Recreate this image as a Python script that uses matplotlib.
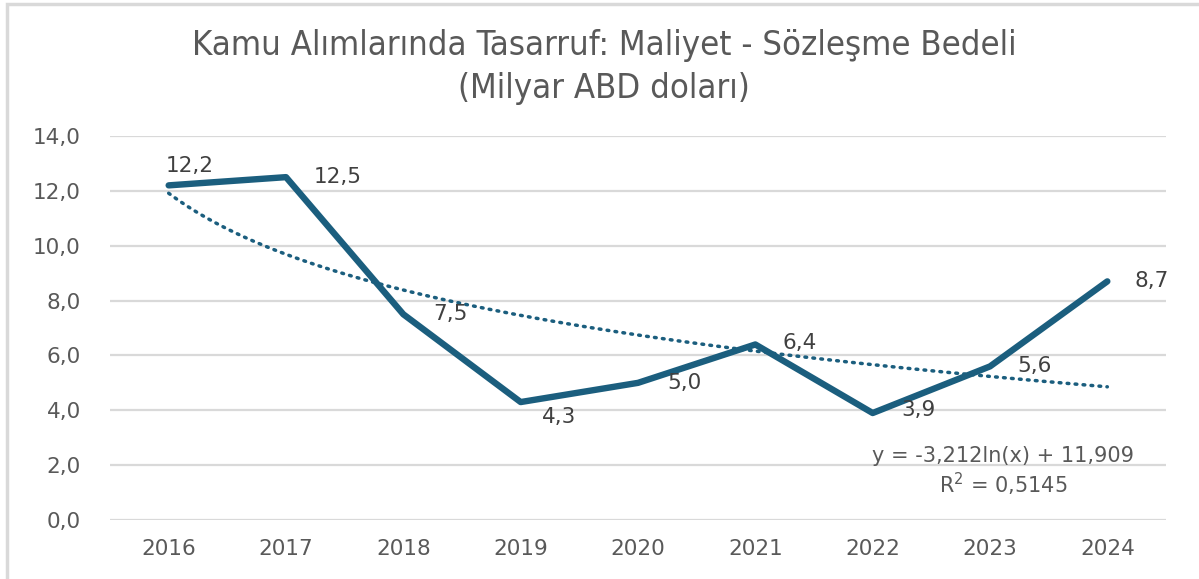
import numpy as np
from matplotlib import pyplot as plt
from matplotlib.patches import Rectangle

# veriler
years = ['2016', '2017', '2018', '2019', '2020', '2021', '2022', '2023', '2024']
values = [12.2, 12.5, 7.5, 4.3, 5.0, 6.4, 3.9, 5.6, 8.7]
y_ticks = [0, 2, 4, 6, 8, 10, 12, 14]

title = 'Kamu Alımlarında Tasarruf: Maliyet - Sözleşme Bedeli\n(Milyar ABD doları)'
eq_text = 'y = -3,212ln(x) + 11,909\nR$^2$ = 0,5145'

line_color = '#1B5E7E'
text_color = '#595959'
grid_color = '#D9D9D9'

plt.rcParams['font.family'] = ['DejaVu Sans']
plt.rcParams['mathtext.fontset'] = 'dejavusans'

fig = plt.figure(figsize=(11.99, 5.79), dpi=100)
ax = fig.add_axes([110 / 1199, 59 / 579, 1056 / 1199, 384 / 579])

x = np.arange(len(years))
ax.plot(x, values, color=line_color, linewidth=4.6, solid_joinstyle='round',
        solid_capstyle='round', zorder=3)

# logaritmik trend çizgisi (veriden hesaplanıyor)
xs = np.linspace(1, len(values), 200)
b, a = np.polyfit(np.log(np.arange(1, len(values) + 1)), values, 1)
ax.plot(xs - 1, b * np.log(xs) + a, color=line_color, linewidth=2.5,
        linestyle=(0, (0.5, 1.8)), dash_capstyle='round', zorder=2)

# veri etiketleri (px cinsinden kaydırma)
offsets = [(-3, 19), (28, 0), (30, 0), (21, -15), (29, 0), (27, 1), (29, 3), (27, 0), (27, 0)]
for xi, v, (dx, dy) in zip(x, values, offsets):
    ax.annotate(f'{v:.1f}'.replace('.', ','), (xi, v), xytext=(dx * 0.72, dy * 0.72),
                textcoords='offset points', ha='left', va='center',
                fontsize=15.5, color='#404040')

ax.text(7.11, 1.75, eq_text, ha='center', va='center', fontsize=15,
        color=text_color, linespacing=1.2)

ax.set_xlim(-0.5, 8.5)
ax.set_ylim(0, 14)
ax.set_xticks(x)
ax.set_xticklabels(years)
ax.set_yticks(y_ticks)
ax.set_yticklabels([f'{t:.1f}'.replace('.', ',') for t in y_ticks])
ax.tick_params(axis='both', length=0, labelsize=15.5, colors=text_color)
ax.tick_params(axis='y', pad=21)
ax.tick_params(axis='x', pad=14)
ax.grid(axis='y', color=grid_color, linewidth=1.6)
ax.set_axisbelow(True)
for s in ax.spines.values():
    s.set_visible(False)

fig.text(604 / 1199, 1 - 67 / 579, title, ha='center', va='center',
         fontsize=24.8, color=text_color, linespacing=1.36,
         family='DejaVu Sans', stretch='condensed')

# çerçeve
fig.add_artist(Rectangle((7 / 1199, -0.1), 1.2, 1 - 4 / 579 + 0.1, transform=fig.transFigure,
                         fill=False, edgecolor='#D9D9D9', linewidth=2.5))

fig.savefig('out.png', dpi=100)
